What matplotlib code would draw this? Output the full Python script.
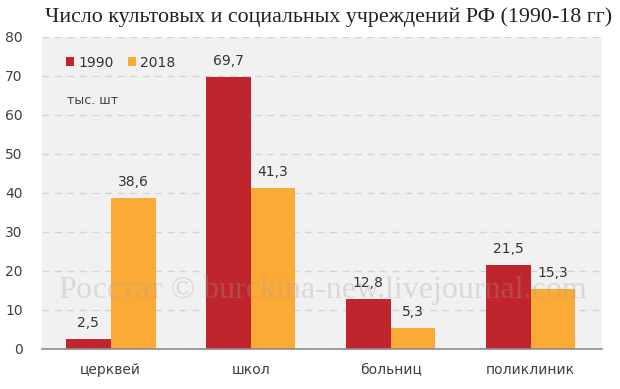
import matplotlib
matplotlib.use("Agg")
import matplotlib.pyplot as plt
import numpy as np

categories = ["церквей", "школ", "больниц", "поликлиник"]
v1990 = [2.5, 69.7, 12.8, 21.5]
v2018 = [38.6, 41.3, 5.3, 15.3]
labels1990 = ["2,5", "69,7", "12,8", "21,5"]
labels2018 = ["38,6", "41,3", "5,3", "15,3"]
yticks = [0, 10, 20, 30, 40, 50, 60, 70, 80]

RED = "#C0242C"
ORANGE = "#FBAA36"

fig = plt.figure(figsize=(6.2, 3.89), dpi=100)
ax = fig.add_axes([0.068, 0.103, 0.903, 0.802])
ax.set_facecolor("#F1F1F1")

x = np.arange(len(categories))
w = 0.32
b1 = ax.bar(x - w / 2, v1990, width=w, color=RED, zorder=3)
b2 = ax.bar(x + w / 2, v2018, width=w, color=ORANGE, zorder=3)

for xi, v, t in zip(x, v1990, labels1990):
    ax.text(xi - w / 2, v + 2.3, t, ha="center", va="bottom", fontsize=10, color="#333333", zorder=4)
for xi, v, t in zip(x, v2018, labels2018):
    ax.text(xi + w / 2, v + 2.3, t, ha="center", va="bottom", fontsize=10, color="#333333", zorder=4)

ax.set_xlim(-0.49, 3.51)
ax.set_ylim(0, 80)
ax.set_yticks(yticks)
ax.set_yticklabels([str(t) for t in yticks], fontsize=10, color="#404040")
ax.set_xticks(x)
ax.set_xticklabels(categories, fontsize=10, color="#404040")
ax.tick_params(axis="both", length=0)
ax.tick_params(axis="x", pad=10)
ax.tick_params(axis="y", pad=14)
ax.yaxis.grid(True, linestyle=(0, (5, 4)), color="#D4D4D4", linewidth=1, zorder=1)
ax.set_axisbelow(True)
for s in ["top", "right", "left"]:
    ax.spines[s].set_visible(False)
ax.spines["bottom"].set_color("#8C8C8C")
ax.spines["bottom"].set_linewidth(1.2)
ax.spines["bottom"].set_zorder(5)

# legend
ax.legend([b1, b2], ["1990", "2018"], loc="upper left", bbox_to_anchor=(0.02, 0.98),
          ncol=2, frameon=False, fontsize=10, handlelength=0.6, handleheight=0.6,
          handletextpad=0.3, columnspacing=1.0, labelcolor="#333333")
ax.text(0.045, 0.795, "тыс. шт", transform=ax.transAxes, fontsize=9, color="#404040", va="center")

fig.text(0.53, 0.956, "Число культовых и социальных учреждений РФ (1990-18 гг)",
         ha="center", va="center", fontsize=15.8, family="Liberation Serif", color="#222222")

fig.text(0.52, 0.254, "Росстат © burckina-new.livejournal.com", ha="center", va="center",
         fontsize=23, family="Liberation Serif", color="#A0A0A0", alpha=0.3, zorder=10)

fig.savefig("out.png", dpi=100)
